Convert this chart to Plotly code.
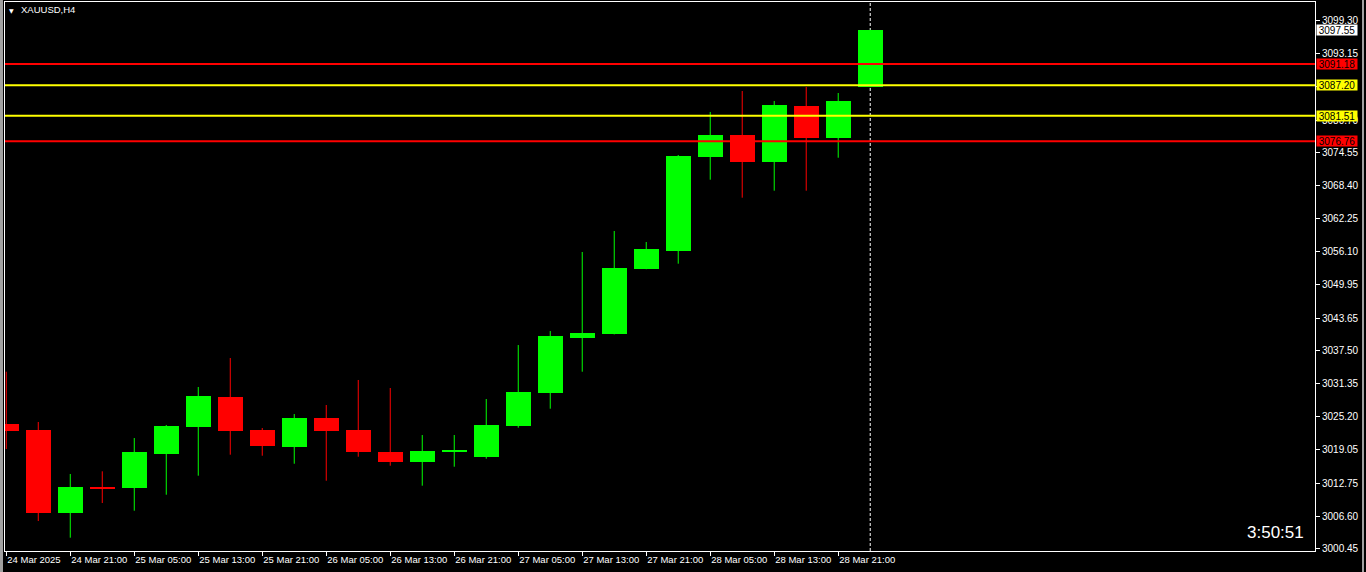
import plotly.graph_objects as go

# ---- data (XAUUSD, H4) ----
opens = [3023.83, 3022.71, 3007.18, 3012.00, 3011.91, 3018.27, 3023.33, 3028.89, 3022.71, 3019.58,
         3024.95, 3022.71, 3018.59, 3016.78, 3018.65, 3017.71, 3023.51, 3029.69, 3039.98, 3040.73,
         3052.89, 3056.26, 3073.85, 3077.91, 3072.92, 3083.34, 3077.41, 3086.90]
highs = [3033.62, 3024.21, 3014.48, 3014.98, 3021.21, 3023.65, 3030.76, 3036.18, 3023.08, 3025.70,
         3027.39, 3032.07, 3030.57, 3021.77, 3021.77, 3028.51, 3038.61, 3041.23, 3056.02, 3059.95,
         3057.89, 3074.17, 3082.22, 3086.14, 3084.27, 3086.89, 3085.77, 3097.60]
lows = [3019.15, 3005.68, 3002.56, 3009.05, 3007.61, 3010.60, 3014.16, 3018.09, 3017.90, 3016.40,
        3013.22, 3017.71, 3016.03, 3012.29, 3015.84, 3017.34, 3023.14, 3026.70, 3033.62, 3040.60,
        3052.80, 3053.83, 3069.55, 3066.18, 3067.49, 3067.49, 3073.66, 3086.85]
closes = [3022.52, 3007.18, 3012.04, 3011.85, 3018.59, 3023.46, 3029.07, 3022.58, 3019.77, 3024.95,
          3022.58, 3018.65, 3016.78, 3018.78, 3018.95, 3023.65, 3029.82, 3040.30, 3040.86, 3053.02,
          3056.58, 3073.98, 3077.91, 3072.92, 3083.53, 3077.41, 3084.27, 3097.55]

x_tick_idx = [0, 2, 4, 6, 8, 10, 12, 14, 16, 18, 20, 22, 24, 26]
x_tick_labels = ["24 Mar 2025", "24 Mar 21:00", "25 Mar 05:00", "25 Mar 13:00", "25 Mar 21:00",
                 "26 Mar 05:00", "26 Mar 13:00", "26 Mar 21:00", "27 Mar 05:00", "27 Mar 13:00",
                 "27 Mar 21:00", "28 Mar 05:00", "28 Mar 13:00", "28 Mar 21:00"]

y_tick_vals = [3099.30, 3093.15, 3087.00, 3080.70, 3074.55, 3068.40, 3062.25, 3056.10, 3049.95,
               3043.65, 3037.50, 3031.35, 3025.20, 3019.05, 3012.75, 3006.60, 3000.45]
# 3087.00 is fully hidden behind the 3087.20 level label in the original
y_tick_labels = ["" if v == 3087.00 else "%.2f" % v for v in y_tick_vals]

level_prices = [3091.18, 3087.20, 3081.51, 3076.76]
level_colors = ["#FF0000", "#FFFF00", "#FFFF00", "#FF0000"]
current_price = 3097.55
current_idx = 27
symbol_title = "XAUUSD,H4"
timer_text = "3:50:51"

BULL = "#00FF00"
BEAR = "#FF0000"

idx = list(range(len(opens)))
bull = [i for i in idx if closes[i] >= opens[i]]
bear = [i for i in idx if closes[i] < opens[i]]

fig = go.Figure()


def wick_xy(sel):
    xs, ys = [], []
    for i in sel:
        xs += [i, i, None]
        ys += [lows[i], highs[i], None]
    return xs, ys


for sel, col in ((bull, BULL), (bear, BEAR)):
    wx, wy = wick_xy(sel)
    fig.add_trace(go.Scatter(x=wx, y=wy, mode="lines", line=dict(color=col, width=1),
                             hoverinfo="skip", showlegend=False))
    fig.add_trace(go.Bar(x=sel,
                         y=[abs(closes[i] - opens[i]) for i in sel],
                         base=[min(opens[i], closes[i]) for i in sel],
                         width=0.78, marker=dict(color=col, line=dict(width=0)),
                         showlegend=False, hoverinfo="skip"))

shapes = []
for p, c in zip(level_prices, level_colors):
    shapes.append(dict(type="line", xref="paper", x0=0, x1=1, yref="y", y0=p, y1=p,
                       line=dict(color=c, width=2), layer="above"))
shapes.append(dict(type="line", xref="x", x0=current_idx, x1=current_idx, yref="paper", y0=0, y1=1,
                   line=dict(color="#FFFFFF", width=1, dash="3px,2px"), layer="below"))
# window edge strips
pw = 1310.0
ph = 549.0
shapes.append(dict(type="rect", xref="paper", yref="paper", x0=-5 / pw, x1=-2 / pw, y0=-21 / ph, y1=1 + 2 / ph,
                   fillcolor="#A0A0A0", line=dict(width=0)))
shapes.append(dict(type="rect", xref="paper", yref="paper", x0=1 + 47 / pw, x1=1 + 49 / pw, y0=-21 / ph, y1=1 + 2 / ph,
                   fillcolor="#A0A0A0", line=dict(width=0)))

annotations = []
for p, c in zip(level_prices, level_colors):
    annotations.append(dict(xref="paper", x=1, xanchor="left", xshift=1, yref="y", y=p, yanchor="middle",
                            text="%.2f" % p, showarrow=False, bgcolor=c, width=40, height=10, borderpad=0,
                            font=dict(family="Liberation Sans, Arial", size=10, color="#000000")))
annotations.append(dict(xref="paper", x=1, xanchor="left", xshift=1, yref="y", y=current_price, yanchor="middle",
                        text="%.2f" % current_price, showarrow=False, bgcolor="#FFFFFF", width=40, height=10,
                        borderpad=0, font=dict(family="Liberation Sans, Arial", size=10, color="#000000")))
annotations.append(dict(xref="paper", x=0, xanchor="left", xshift=2, yref="paper", y=1, yanchor="middle",
                        yshift=-8, text="▼", showarrow=False,
                        font=dict(family="DejaVu Sans", size=6, color="#FFFFFF")))
annotations.append(dict(xref="paper", x=0, xanchor="left", xshift=14, yref="paper", y=1, yanchor="middle",
                        yshift=-7, text=symbol_title, showarrow=False,
                        font=dict(family="Liberation Sans, Arial", size=9.5, color="#FFFFFF")))
annotations.append(dict(xref="paper", x=1, xanchor="right", xshift=-9, yref="paper", y=0, yanchor="middle",
                        yshift=19, text=timer_text, showarrow=False,
                        font=dict(family="Liberation Sans, Arial", size=17, color="#FFFFFF")))

fig.update_layout(
    width=1366, height=572,
    margin=dict(l=5, r=51, t=2, b=21, pad=0, autoexpand=False),
    paper_bgcolor="#000000", plot_bgcolor="#000000",
    barmode="overlay", bargap=0,
    showlegend=False,
    shapes=shapes, annotations=annotations,
    xaxis=dict(range=[-0.04, 40.90], showgrid=False, zeroline=False, automargin=False,
               tickmode="array", tickvals=x_tick_idx, ticktext=x_tick_labels, tickangle=0,
               ticks="outside", ticklen=4, tickcolor="#FFFFFF", tickwidth=1,
               ticklabelposition="outside right",
               tickfont=dict(family="Liberation Sans, Arial", size=9.5, color="#FFFFFF"),
               showline=True, linecolor="#FFFFFF", linewidth=1, mirror=True, fixedrange=True),
    yaxis=dict(range=[3000.07, 3102.80], side="right", showgrid=False, zeroline=False, automargin=False,
               tickmode="array", tickvals=y_tick_vals, ticktext=y_tick_labels,
               ticks="outside", ticklen=4, tickcolor="#FFFFFF", tickwidth=1,
               tickfont=dict(family="Liberation Sans, Arial", size=10, color="#FFFFFF"),
               showline=True, linecolor="#FFFFFF", linewidth=1, mirror=True, fixedrange=True),
)

fig.write_html("out.html", config={"displayModeBar": False},
               post_script="document.body.style.margin='0';document.body.style.overflow='hidden';")
